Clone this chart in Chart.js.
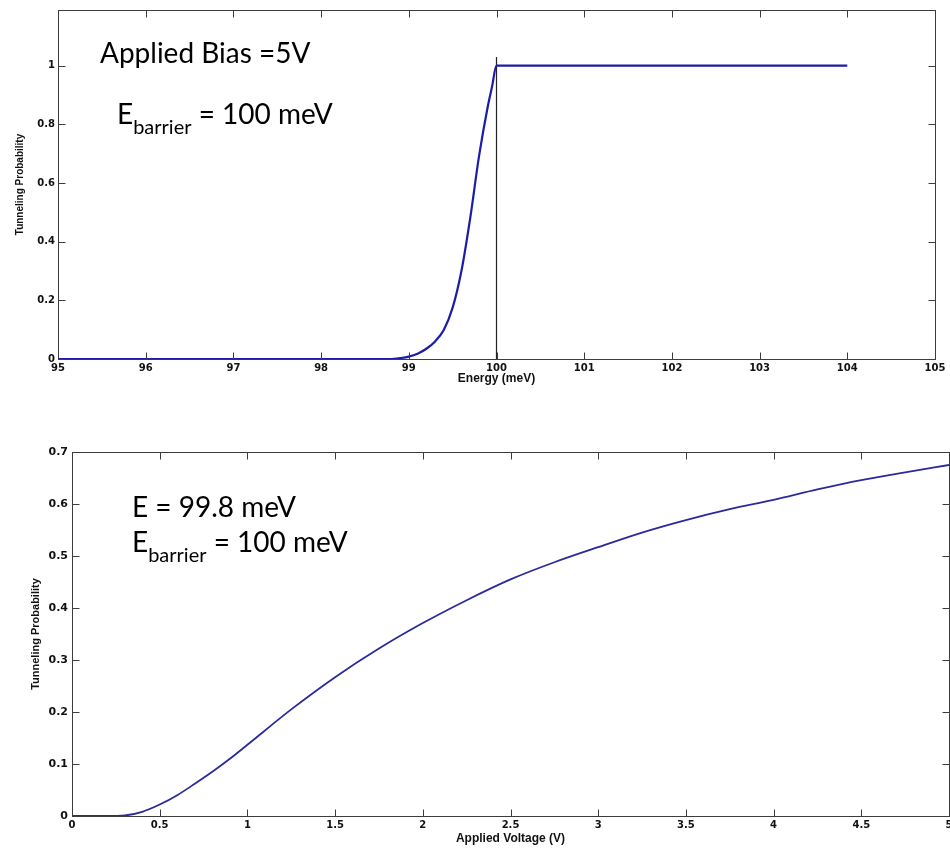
<!DOCTYPE html>
<html>
<head>
<meta charset="utf-8">
<script src="https://cdn.jsdelivr.net/npm/chart.js@4.4.1/dist/chart.umd.min.js"></script>
<style>
  html, body { margin: 0; padding: 0; background: #fff; overflow: hidden; width: 950px; height: 848px; }
  canvas { position: absolute; left: 0; }
  #energyChart { top: 0; }
  #voltageChart { top: 420px; }
</style>
</head>
<body>
<canvas id="energyChart" width="980" height="400"></canvas>
<canvas id="voltageChart" width="980" height="428"></canvas>
<script>
// Tunneling probability vs. electron energy, bias fixed at 5 V
const energyMeV = [95, 96, 97, 98, 98.8, 98.9, 99, 99.1, 99.2, 99.3, 99.4, 99.5, 99.6, 99.7, 99.8, 99.9, 99.95, 100, 101, 102, 103, 104];
const probVsEnergy = [0, 0, 0, 0, 0, 0.003, 0.008, 0.018, 0.035, 0.06, 0.1, 0.175, 0.3, 0.48, 0.69, 0.86, 0.93, 1, 1, 1, 1, 1];
const barrierMeV = 100;
const barrierMarkTop = 1.03;
const energyTicks = [95, 96, 97, 98, 99, 100, 101, 102, 103, 104, 105];
const probTicksTop = [0, 0.2, 0.4, 0.6, 0.8, 1];

// Tunneling probability vs. applied voltage, E = 99.8 meV
const voltage = [0, 0.1, 0.2, 0.3, 0.4, 0.5, 0.6, 0.7, 0.8, 0.9, 1.0, 1.25, 1.5, 1.75, 2.0, 2.25, 2.5, 2.75, 3.0, 3.25, 3.5, 3.75, 4.0, 4.25, 4.5, 4.75, 5.0];
const probVsVoltage = [0, 0, 0, 0.001, 0.008, 0.022, 0.04, 0.062, 0.085, 0.11, 0.137, 0.205, 0.267, 0.322, 0.371, 0.415, 0.455, 0.488, 0.517, 0.545, 0.569, 0.59, 0.608, 0.628, 0.646, 0.661, 0.675];
const voltageTicks = [0, 0.5, 1, 1.5, 2, 2.5, 3, 3.5, 4, 4.5, 5];
const probTicksBottom = [0, 0.1, 0.2, 0.3, 0.4, 0.5, 0.6, 0.7];

const AXIS_COLOR = '#3c3c3c';
const TICK_FONT = { family: 'DejaVu Sans', weight: 'bold', size: 10 };

const pts = (xs, ys) => xs.map((v, i) => ({ x: v, y: ys[i] }));
const fmt = v => String(+(+v).toFixed(2));

// box around the plot area with inward tick marks on all four sides
const matlabFrame = {
  id: 'matlabFrame',
  afterDatasetsDraw(chart, args, opts) {
    const { ctx, chartArea: a, scales: { x, y } } = chart;
    const len = opts.tickLength || 7;
    ctx.save();
    ctx.strokeStyle = AXIS_COLOR;
    ctx.lineWidth = 1;
    const L = Math.round(a.left) + 0.5, R = Math.round(a.right) + 0.5;
    const T = Math.round(a.top) + 0.5, B = Math.round(a.bottom) + 0.5;
    ctx.strokeRect(L, T, R - L, B - T);
    ctx.beginPath();
    x.ticks.forEach(t => {
      const px = Math.round(x.getPixelForValue(t.value)) + 0.5;
      ctx.moveTo(px, B); ctx.lineTo(px, B - len);
      ctx.moveTo(px, T); ctx.lineTo(px, T + len);
    });
    y.ticks.forEach(t => {
      const py = Math.round(y.getPixelForValue(t.value)) + 0.5;
      ctx.moveTo(L, py); ctx.lineTo(L + len, py);
      ctx.moveTo(R, py); ctx.lineTo(R - len, py);
    });
    ctx.stroke();
    ctx.restore();
  }
};

// free text notes: each line is main text, optional subscript, then the rest
const notes = {
  id: 'notes',
  afterDraw(chart, args, opts) {
    const { ctx } = chart;
    ctx.save();
    ctx.fillStyle = '#000';
    ctx.textBaseline = 'alphabetic';
    (opts.lines || []).forEach(l => {
      let x = l.x;
      ctx.font = `${l.size}px Lato`;
      ctx.fillText(l.main, x, l.y);
      x += ctx.measureText(l.main).width;
      if (l.sub) {
        ctx.font = `${Math.round(l.size * 0.72)}px Lato`;
        ctx.fillText(l.sub, x, l.y + l.size * 0.36);
        x += ctx.measureText(l.sub).width;
        ctx.font = `${l.size}px Lato`;
      }
      if (l.rest) ctx.fillText(l.rest, x, l.y);
    });
    ctx.restore();
  }
};

function axis(tickValues, min, max, extra) {
  return Object.assign({
    type: 'linear', min, max,
    afterBuildTicks: s => { s.ticks = tickValues.map(v => ({ value: v })); },
    grid: { display: false, drawTicks: false },
    border: { display: false },
    ticks: { font: TICK_FONT, color: '#111', autoSkip: false, maxRotation: 0, callback: fmt }
  }, extra);
}

new Chart(document.getElementById('energyChart'), {
  type: 'line',
  data: {
    datasets: [
      { data: pts(energyMeV, probVsEnergy), borderColor: '#1c1ca8', borderWidth: 2.2, pointRadius: 0, cubicInterpolationMode: 'monotone' },
      { data: pts([barrierMeV, barrierMeV], [0, barrierMarkTop]), borderColor: '#222', borderWidth: 1.2, pointRadius: 0 }
    ]
  },
  options: {
    responsive: false, animation: false,
    layout: { padding: { top: 10, right: 45, left: 0, bottom: 0 } },
    plugins: {
      legend: { display: false }, tooltip: { enabled: false },
      matlabFrame: { tickLength: 7 },
      notes: { lines: [
        { main: 'Applied Bias =5V', x: 100, y: 63, size: 28 },
        { main: 'E', sub: 'barrier', rest: ' = 100 meV', x: 117, y: 124, size: 28 }
      ] }
    },
    scales: {
      x: axis(energyTicks, 95, 105, {
        afterFit: s => { s.height = 41; },
        title: { display: true, text: 'Energy (meV)', color: '#111', font: { family: 'Liberation Sans', weight: 'bold', size: 12 }, padding: { top: 0, bottom: 14 } }
      }),
      y: axis(probTicksTop, 0, 1.19, {
        afterFit: s => { s.width = 58; },
        title: { display: true, text: 'Tunneling Probability', color: '#111', font: { family: 'Liberation Sans', weight: 'bold', size: 10 }, padding: { top: 14, bottom: 0 } }
      })
    }
  },
  plugins: [matlabFrame, notes]
});

new Chart(document.getElementById('voltageChart'), {
  type: 'line',
  data: {
    datasets: [
      { data: pts(voltage, probVsVoltage), borderColor: '#2a2a9c', borderWidth: 1.8, pointRadius: 0, cubicInterpolationMode: 'monotone' }
    ]
  },
  options: {
    responsive: false, animation: false,
    layout: { padding: { top: 32, right: 31, left: 0, bottom: 0 } },
    plugins: {
      legend: { display: false }, tooltip: { enabled: false },
      matlabFrame: { tickLength: 7 },
      notes: { lines: [
        { main: 'E = 99.8 meV', x: 132, y: 97, size: 28 },
        { main: 'E', sub: 'barrier', rest: ' = 100 meV', x: 132, y: 132, size: 28 }
      ] }
    },
    scales: {
      x: axis(voltageTicks, 0, 5, {
        afterFit: s => { s.height = 32; },
        title: { display: true, text: 'Applied Voltage (V)', color: '#111', font: { family: 'Liberation Sans', weight: 'bold', size: 12 }, padding: { top: 0, bottom: 2 } }
      }),
      y: axis(probTicksBottom, 0, 0.7, {
        afterFit: s => { s.width = 72; },
        ticks: { font: { family: 'DejaVu Sans', weight: 'bold', size: 11 }, color: '#111', padding: 4, autoSkip: false, callback: fmt },
        title: { display: true, text: 'Tunneling Probability', color: '#111', font: { family: 'Liberation Sans', weight: 'bold', size: 11 }, padding: { top: 29, bottom: 0 } }
      })
    }
  },
  plugins: [matlabFrame, notes]
});
</script>
</body>
</html>
